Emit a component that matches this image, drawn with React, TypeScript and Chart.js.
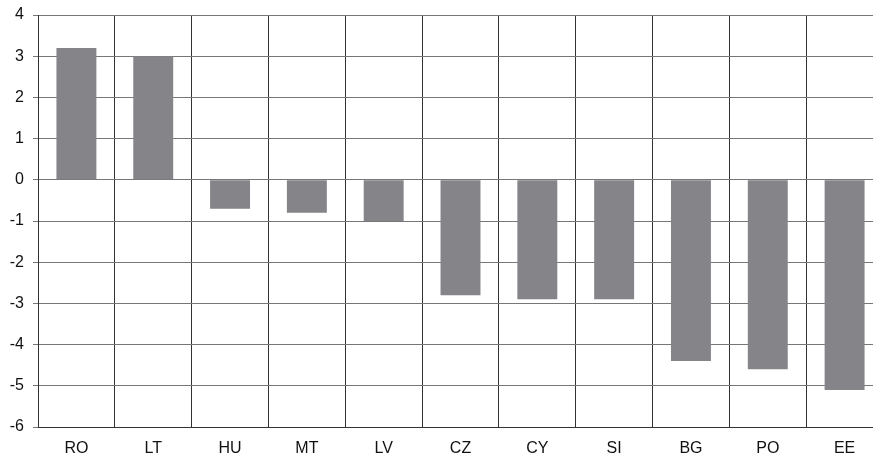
import React, { useEffect, useRef } from "react";
import { Chart, registerables } from "chart.js";

Chart.register(...registerables);

const categories = ["RO", "LT", "HU", "MT", "LV", "CZ", "CY", "SI", "BG", "PO", "EE"];
const values = [3.2, 3.0, -0.7, -0.8, -1.0, -2.8, -2.9, -2.9, -4.4, -4.6, -5.1];
const yMin = -6;
const yMax = 4;

export default function App() {
  const ref = useRef<HTMLCanvasElement>(null);
  useEffect(() => {
    document.body.style.margin = "0";
    document.body.style.overflow = "hidden";
    const font = { family: "Liberation Sans, Arial", size: 16 };
    const chart = new Chart(ref.current!, {
      type: "bar",
      data: {
        labels: categories,
        datasets: [
          {
            data: values,
            backgroundColor: "#858489",
            borderWidth: 0,
            barPercentage: 0.52,
            categoryPercentage: 1,
          },
        ],
      },
      options: {
        responsive: false,
        animation: false,
        plugins: { legend: { display: false }, tooltip: { enabled: false } },
        layout: { padding: { top: 15, right: 0, left: 0, bottom: 0 } },
        scales: {
          x: {
            grid: { color: "#333", lineWidth: 1, drawTicks: false, offset: true },
            border: { color: "#333" },
            ticks: { color: "#111", font, padding: 12 },
            afterFit: (s: any) => { s.height = 29; s.paddingLeft = 0; s.paddingRight = 0; },
          },
          y: {
            min: yMin,
            max: yMax,
            grid: { color: "#777", lineWidth: 1, tickLength: 5 },
            border: { color: "#333" },
            ticks: { stepSize: 1, color: "#111", font, padding: 9 },
            afterFit: (s: any) => { s.width = 38; s.paddingTop = 0; s.paddingBottom = 0; },
          },
        },
      },
    });
    return () => chart.destroy();
  }, []);
  return (
    <div style={{ position: "fixed", left: 0, top: 0, width: 873, height: 456, overflow: "hidden", background: "#fff" }}>
      <canvas ref={ref} width={883} height={456} style={{ display: "block" }} />
    </div>
  );
}
